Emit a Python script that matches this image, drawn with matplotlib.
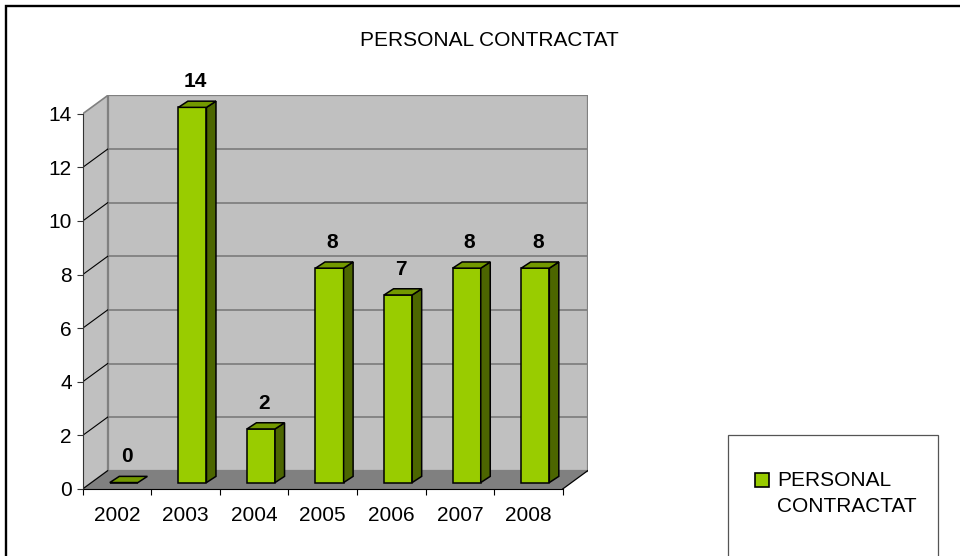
import numpy as np
import matplotlib
matplotlib.use('Agg')
import matplotlib.pyplot as plt
from matplotlib.patches import Polygon, Rectangle

plt.rcParams['font.family'] = ['Liberation Sans', 'DejaVu Sans']

years = ['2002', '2003', '2004', '2005', '2006', '2007', '2008']
values = [0, 14, 2, 8, 7, 8, 8]
series_name = 'PERSONAL CONTRACTAT'
yticks = [0, 2, 4, 6, 8, 10, 12, 14]

W, H = 960, 556
CAT, UNIT = 68.57, 26.8        # pixels per category / per unit
X0PX, Y0PX = 82.7, 489.0       # front-left corner of the floor
DX, DY = 25 / CAT, 18.3 / UNIT  # depth of the 3d box in data units
BW, OFF, BASE = 0.41, 0.10, 0.24
BDX, BDY = 9.5 / CAT, 6.2 / UNIT  # bar depth

FRONT, SIDE, TOP = '#99CC00', '#4C6600', '#739900'
WALL, FLOOR, EDGE = '#C0C0C0', '#808080', '#808080'


def fx(px):
    return px / W


def fy(py):
    return 1 - py / H


fig = plt.figure(figsize=(W / 100, H / 100), dpi=100)
ax = fig.add_axes([fx(X0PX), (H - Y0PX) / H, (7 + DX) * CAT / W, (14 + DY) * UNIT / H])
ax.set_xlim(-0.5, 6.5 + DX)
ax.set_ylim(0, 14 + DY)
ax.patch.set_visible(False)

x0, x1, top = -0.5, 6.5, 14

# walls and floor
ax.add_patch(Rectangle((x0 + DX, DY), x1 - x0, top, facecolor=WALL, edgecolor=EDGE, lw=1.6, zorder=0.5))
ax.add_patch(Polygon([(x0, 0), (x0 + DX, DY), (x0 + DX, top + DY), (x0, top)], closed=True,
                     facecolor=WALL, edgecolor=EDGE, lw=1.2, zorder=0.6))
ax.add_patch(Polygon([(x0, 0), (x1, 0), (x1 + DX, DY), (x0 + DX, DY)], closed=True,
                     facecolor=FLOOR, edgecolor='none', zorder=0.6))
ax.plot([x1, x1 + DX], [0, DY], color='black', lw=0.9, zorder=0.8)

for v in yticks[:-1]:
    if v > 0:
        ax.plot([x0 + DX, x1 + DX], [v + DY, v + DY], color=EDGE, lw=1.3, zorder=0.7)
    ax.plot([x0, x0 + DX], [v, v + DY], color='black', lw=0.8, zorder=0.8)

# bars
x = np.arange(len(years))
ax.bar(x + OFF, values, width=BW, bottom=BASE, color=FRONT, edgecolor='black', lw=1.1, zorder=3)
for xi, v in zip(x, values):
    xl, xr = xi + OFF - BW / 2, xi + OFF + BW / 2
    yt = BASE + v
    if v > 0:
        ax.add_patch(Polygon([(xr, BASE), (xr + BDX, BASE + BDY), (xr + BDX, yt + BDY), (xr, yt)],
                             closed=True, facecolor=SIDE, edgecolor='black', lw=1.1, zorder=3))
    ax.add_patch(Polygon([(xl, yt), (xr, yt), (xr + BDX, yt + BDY), (xl + BDX, yt + BDY)],
                         closed=True, facecolor=TOP, edgecolor='black', lw=1.1, zorder=3.1))
    ax.annotate(str(v), (xi + OFF + 0.04, yt + BDY), xytext=(0, 10), textcoords='offset points',
                ha='center', va='baseline', fontsize=15, fontweight='bold', zorder=4)

# axes
for s in ['top', 'right']:
    ax.spines[s].set_visible(False)
ax.spines['left'].set_bounds(0, 14)
ax.spines['bottom'].set_bounds(x0, x1)
ax.spines['left'].set_color('#333333')
ax.spines['left'].set_zorder(0.9)
ax.spines['bottom'].set_zorder(0.9)
ax.set_yticks(yticks)
ax.tick_params(axis='y', length=4.3, width=0.8, pad=3.6, labelsize=15, colors='#333333', labelcolor='black')
ax.set_xticks(np.arange(x0, x1 + 0.01, 1))
ax.set_xticklabels([])
ax.set_xticks(x, labels=years, minor=True)
ax.tick_params(axis='x', which='major', length=4.3, width=0.8)
ax.tick_params(axis='x', which='minor', length=0, pad=12, labelsize=15)

# title
fig.text(fx(489), fy(46), series_name, ha='center', va='baseline', fontsize=15)

# legend box
fig.add_artist(Rectangle((fx(728), fy(600)), fx(938) - fx(728), fy(435) - fy(600),
                         transform=fig.transFigure, facecolor='white', edgecolor='#555555', lw=0.9))
fig.add_artist(Rectangle((fx(755), fy(487)), fx(769) - fx(755), fy(473) - fy(487),
                         transform=fig.transFigure, facecolor=FRONT, edgecolor='black', lw=1.2))
fig.text(fx(777), fy(486.5), 'PERSONAL', ha='left', va='baseline', fontsize=15)
fig.text(fx(777), fy(512.5), 'CONTRACTAT', ha='left', va='baseline', fontsize=15)

# outer frame
fig.add_artist(Rectangle((fx(6), fy(600)), 1.2, fy(6) - fy(600), transform=fig.transFigure,
                         facecolor='none', edgecolor='black', lw=1.7))

fig.savefig('out.png', dpi=100)
